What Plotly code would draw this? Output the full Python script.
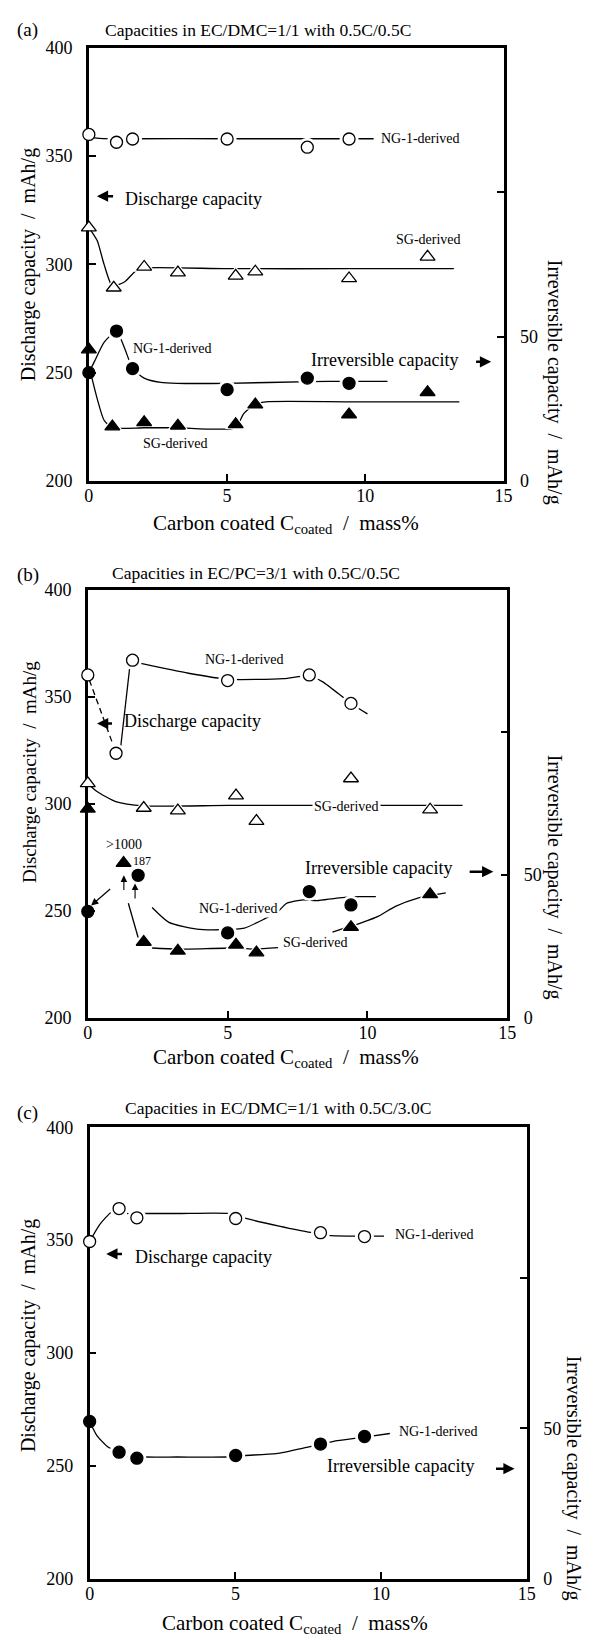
import plotly.graph_objects as go

# ---------------- data ----------------
X_TICKS = [0, 5, 10, 15]
LEFT_TICKS = [200, 250, 300, 350, 400]
RIGHT_TICKS = [0, 50, 100]
RIGHT_TICKTEXT = ["0", "50", ""]

TITLES = ["Capacities in EC/DMC=1/1 with 0.5C/0.5C",
          "Capacities in EC/PC=3/1 with 0.5C/0.5C",
          "Capacities in EC/DMC=1/1 with 0.5C/3.0C"]
PANEL_TAGS = ["(a)", "(b)", "(c)"]

# Panel (a): discharge capacity (left axis, mAh/g)
A_NG_DIS_X = [0, 1.0, 1.58, 5.0, 7.9, 9.41]
A_NG_DIS_Y = [360, 356.4, 357.9, 357.9, 354.1, 357.9]
A_NG_DIS_FIT_X = [0, 1.0, 1.6, 5.0, 9.4, 10.3]
A_NG_DIS_FIT_Y = [358.5, 357.8, 358, 358, 358, 358]
A_SG_DIS_X = [0, 0.9, 2.0, 3.22, 5.31, 6.02, 9.41, 12.25]
A_SG_DIS_Y = [317, 289.2, 298.8, 296.2, 294.7, 296.6, 293.5, 303.5]
A_SG_DIS_FIT_X = [0, 0.3, 0.55, 0.85, 1.3, 1.7, 2.0, 5.0, 9.4, 13.2]
A_SG_DIS_FIT_Y = [317, 311, 300, 290, 292, 297, 298.3, 298, 298, 298]
# Panel (a): irreversible capacity (right axis, mAh/g)
A_NG_IRR_X = [0, 1.0, 1.58, 5.0, 7.9, 9.41]
A_NG_IRR_Y = [37.5, 51.9, 38.9, 31.6, 35.6, 33.8]
A_NG_IRR_FIT_X = [0, 0.2, 0.55, 1.0, 1.3, 1.58, 2.0, 2.6, 3.2, 5.0, 8.0, 9.4, 10.8]
A_NG_IRR_FIT_Y = [37.5, 41.3, 48, 51.8, 45.8, 39, 35.6, 34.1, 33.8, 33.8, 34.4, 34.5, 34.5]
A_SG_IRR_X = [0, 0.85, 2.0, 3.22, 5.31, 6.02, 9.41, 12.25]
A_SG_IRR_Y = [45.5, 18.8, 20.3, 19.1, 19.6, 26.4, 23.0, 30.7]
A_SG_IRR_FIT_X = [0.1, 0.3, 0.55, 0.85, 2.0, 3.2, 5.3, 5.6, 6.0, 6.4, 9.4, 13.4]
A_SG_IRR_FIT_Y = [36, 28.5, 21, 18.4, 18.4, 18.4, 18.4, 23.3, 26.6, 27.4, 27.4, 27.4]

# Panel (b): discharge capacity
B_NG_DIS_X = [0, 1.01, 1.6, 5.0, 7.92, 9.41]
B_NG_DIS_Y = [360.2, 323.6, 367.1, 357.6, 360.2, 346.9]
B_NG_DIS_DASH_X = [0.05, 0.5, 0.92]
B_NG_DIS_DASH_Y = [358, 342, 327]
B_NG_DIS_FIT_X = [1.18, 1.51, None, 1.9, 3.6, 5.0, 7.0, 7.9, 8.4, 9.4, 10.0]
B_NG_DIS_FIT_Y = [327, 365, None, 365.6, 361, 358.2, 358.5, 359.8, 357, 347, 342]
B_SG_DIS_X = [0, 2.0, 3.22, 5.3, 6.03, 9.41, 12.24]
B_SG_DIS_Y = [309.5, 298, 296.8, 303.8, 291.9, 311.8, 297.2]
B_SG_DIS_FIT_X = [0, 0.33, 1.0, 2.0, 5.0, 9.0, 13.4]
B_SG_DIS_FIT_Y = [309.5, 305.7, 301, 299, 299.2, 299.2, 299.2]
# Panel (b): irreversible capacity
B_NG_IRR_X = [0, 1.8, 5.0, 7.92, 9.41]
B_NG_IRR_Y = [37.2, 49.9, 29.7, 44.2, 39.5]
B_NG_IRR_FIT_X = [2.3, 2.9, 3.9, 4.8, 5.6, 6.3, 6.8, 7.1, 7.7, 8.2, 8.9, 9.7, 10.3]
B_NG_IRR_FIT_Y = [38.6, 33.4, 31.0, 30.8, 31.4, 34.5, 37.2, 40.0, 41.3, 41.0, 41.9, 42.4, 42.4]
B_SG_IRR_X = [0, 1.28, 2.0, 3.22, 5.3, 6.03, 9.41, 12.24]
B_SG_IRR_Y = [73.2, 54.2, 26.5, 23.4, 25.5, 22.8, 31.7, 43.2]
B_SG_IRR_FIT_X = [1.45, 1.8, None, 2.3, 3.2, 5.3, 6.0, 6.8, None, 8.75, 9.2, None,
                  9.6, 10.4, 11.0, 11.8, 12.24, 12.8]
B_SG_IRR_FIT_Y = [40.1, 28.1, None, 24.4, 24.0, 24.4, 24.0, 24.5, None, 30.0, 31.5, None,
                  32.6, 35.6, 39.0, 41.9, 42.8, 43.7]

# Panel (c)
C_NG_DIS_X = [0, 1.01, 1.62, 5.01, 7.92, 9.43]
C_NG_DIS_Y = [349.4, 364, 359.9, 359.6, 353.3, 351.6]
C_NG_DIS_FIT_X = [0, 0.35, 0.75, 1.01, 1.35, 1.9, 3.0, 4.8, 5.4, 6.5, 7.5, 7.92, 8.3, 9.43, 10.1]
C_NG_DIS_FIT_Y = [349.4, 357, 362.5, 363.5, 361.6, 361.8, 361.8, 361.8, 359.5, 356.2, 353.6, 353,
                  352, 351.8, 351.8]
C_NG_IRR_X = [0, 1.01, 1.62, 5.01, 7.92, 9.43]
C_NG_IRR_Y = [52.3, 42.1, 40.1, 41.0, 44.8, 47.3]
C_NG_IRR_FIT_X = [0, 0.25, 0.63, 1.01, 1.3, 1.9, 3.0, 4.7, 5.3, 6.4, 7.45, 7.92, 8.5, 9.43, 10.3]
C_NG_IRR_FIT_Y = [52.3, 47.6, 43.8, 42.0, 40.9, 40.5, 40.5, 40.5, 41.0, 41.6, 43.7, 44.7, 45.9,
                  47.1, 48.3]

# ---------------- layout constants ----------------
W, H = 591, 1643
FONT = "Liberation Serif, Times New Roman, serif"
# plot boxes in pixels: left, right, top, bottom
BOXES = [(85.9, 510.7, 38.3, 476.7), (84.8, 514.5, 587.0, 1020.0), (86.7, 534.5, 1131.0, 1588.3)]


def px(x):
    return x / W


def py(y):
    return 1 - y / H


fig = go.Figure()
annotations = []
layout = {}


def names(i):
    xn = "x" if i == 0 else "x%d" % (i + 1)
    yl = "y" if i == 0 else "y%d" % (2 * i + 1)
    yr = "y%d" % (2 * i + 2)
    return xn, yl, yr


def curve(xs, ys, xa, ya, dash="solid"):
    fig.add_trace(go.Scatter(x=xs, y=ys, xaxis=xa, yaxis=ya, mode="lines",
                             line=dict(color="black", width=1.3, shape="spline",
                                       smoothing=0.6, dash=dash),
                             connectgaps=False, hoverinfo="skip", showlegend=False))


def marks(xs, ys, xa, ya, symbol, filled):
    hx = [x for x in xs if x > 0.2]
    hy = [y for x, y in zip(xs, ys) if x > 0.2]
    fig.add_trace(go.Scatter(x=hx, y=hy, xaxis=xa, yaxis=ya, mode="markers",
                             marker=dict(symbol=symbol, size=19, color="white",
                                         line=dict(width=0)),
                             cliponaxis=False, hoverinfo="skip", showlegend=False))
    fig.add_trace(go.Scatter(x=xs, y=ys, xaxis=xa, yaxis=ya, mode="markers",
                             marker=dict(symbol=symbol, size=12 if symbol == "circle" else 13,
                                         color="black" if filled else "white",
                                         line=dict(color="black", width=1.3)),
                             cliponaxis=False, hoverinfo="skip", showlegend=False))


def label(text, x, y, xa, ya, size=14, xanchor="center", bg=None):
    d = dict(text=text, x=x, y=y, xref=xa, yref=ya, showarrow=False,
             font=dict(family=FONT, size=size, color="black"), xanchor=xanchor, yanchor="middle")
    if bg:
        d["bgcolor"] = bg
        d["borderpad"] = 1
    annotations.append(d)


def arrow(x, y, ax, ay, xa, ya, width=2.5, head=2, size=0.9):
    annotations.append(dict(text="", x=x, y=y, ax=ax, ay=ay, xref=xa, yref=ya,
                            axref=xa, ayref=ya, showarrow=True, arrowhead=head,
                            arrowsize=size, arrowwidth=width, arrowcolor="black"))


def paper_text(text, x, y, size, angle=0, xanchor="center"):
    annotations.append(dict(text=text, x=px(x), y=py(y), xref="paper", yref="paper",
                            showarrow=False, textangle=angle, xanchor=xanchor, yanchor="middle",
                            font=dict(family=FONT, size=size, color="black")))


for i, (l, r, t, b) in enumerate(BOXES):
    xn, yl, yr = names(i)
    xk = "xaxis" if i == 0 else "xaxis%d" % (i + 1)
    ylk = "yaxis" if i == 0 else "yaxis%d" % (2 * i + 1)
    yrk = "yaxis%d" % (2 * i + 2)
    common = dict(showline=True, linewidth=2.6, linecolor="black", ticks="inside", ticklen=7,
                  tickwidth=2.4, tickcolor="black", showgrid=False, zeroline=False,
                  tickfont=dict(family=FONT, size=18, color="black"), layer="below traces")
    layout[xk] = dict(common, domain=[px(l), px(r)], range=[0, 15], tickvals=X_TICKS,
                      mirror=True, anchor=yl, ticklabelstandoff=-3)
    layout[ylk] = dict(common, domain=[py(b), py(t)], range=[200, 400], tickvals=LEFT_TICKS,
                       anchor=xn, ticklabelstandoff=10)
    layout[yrk] = dict(common, domain=[py(b), py(t)], range=[0, 150], tickvals=RIGHT_TICKS,
                       ticktext=RIGHT_TICKTEXT, anchor=xn, overlaying=yl, side="right",
                       ticklabelstandoff=10)

# ---- panel (a)
xn, yl, yr = names(0)
curve(A_NG_DIS_FIT_X, A_NG_DIS_FIT_Y, xn, yl)
curve(A_SG_DIS_FIT_X, A_SG_DIS_FIT_Y, xn, yl)
curve(A_NG_IRR_FIT_X, A_NG_IRR_FIT_Y, xn, yr)
curve(A_SG_IRR_FIT_X, A_SG_IRR_FIT_Y, xn, yr)
marks(A_NG_DIS_X, A_NG_DIS_Y, xn, yl, "circle", False)
marks(A_SG_DIS_X, A_SG_DIS_Y, xn, yl, "triangle-up", False)
marks(A_NG_IRR_X, A_NG_IRR_Y, xn, yr, "circle", True)
marks(A_SG_IRR_X, A_SG_IRR_Y, xn, yr, "triangle-up", True)
label("NG-1-derived", 10.5, 358, xn, yl, 14, "left")
label("SG-derived", 12.27, 311.6, xn, yl, 14)
label("NG-1-derived", 3.02, 261.3, xn, yl, 14)
label("SG-derived", 3.14, 217.4, xn, yl, 14)
label("Discharge capacity", 1.22, 330.3, xn, yl, 18, "left")
arrow(0.29, 331.5, 0.93, 331.5, xn, yl)
label("Irreversible capacity", 10.68, 256, xn, yl, 18)
arrow(14.55, 255, 13.95, 255, xn, yl)

# ---- panel (b)
xn, yl, yr = names(1)
curve(B_NG_DIS_DASH_X, B_NG_DIS_DASH_Y, xn, yl, dash="6px,4px")
curve(B_NG_DIS_FIT_X, B_NG_DIS_FIT_Y, xn, yl)
curve(B_SG_DIS_FIT_X, B_SG_DIS_FIT_Y, xn, yl)
curve(B_NG_IRR_FIT_X, B_NG_IRR_FIT_Y, xn, yr)
curve(B_SG_IRR_FIT_X, B_SG_IRR_FIT_Y, xn, yr)
marks(B_NG_DIS_X, B_NG_DIS_Y, xn, yl, "circle", False)
marks(B_SG_DIS_X, B_SG_DIS_Y, xn, yl, "triangle-up", False)
marks(B_NG_IRR_X, B_NG_IRR_Y, xn, yr, "circle", True)
marks(B_SG_IRR_X, B_SG_IRR_Y, xn, yr, "triangle-up", True)
label("NG-1-derived", 5.62, 367.6, xn, yl, 14)
label("SG-derived", 9.24, 298.8, xn, yl, 14, bg="white")
label("NG-1-derived", 5.39, 251.2, xn, yl, 14, bg="white")
label("SG-derived", 8.14, 234.9, xn, yl, 14, bg="white")
label("&gt;1000", 1.29, 281.1, xn, yl, 14)
label("187", 1.95, 273.4, xn, yl, 12)
arrow(1.29, 266.5, 1.29, 258.9, xn, yl, width=1.1, head=2, size=1.2)
arrow(1.69, 262.7, 1.69, 255.0, xn, yl, width=1.1, head=2, size=1.2)
arrow(0.12, 252.4, 0.855, 260.7, xn, yl, width=1.2, head=2, size=1.2)
label("Discharge capacity", 1.22, 338.7, xn, yl, 18, "left")
arrow(0.33, 337.5, 0.92, 337.5, xn, yl)
label("Irreversible capacity", 10.39, 270, xn, yl, 18)
arrow(14.5, 268.2, 13.6, 268.2, xn, yl)

# ---- panel (c)
xn, yl, yr = names(2)
curve(C_NG_DIS_FIT_X, C_NG_DIS_FIT_Y, xn, yl)
curve(C_NG_IRR_FIT_X, C_NG_IRR_FIT_Y, xn, yr)
marks(C_NG_DIS_X, C_NG_DIS_Y, xn, yl, "circle", False)
marks(C_NG_IRR_X, C_NG_IRR_Y, xn, yr, "circle", True)
label("NG-1-derived", 10.42, 352.3, xn, yl, 14, "left")
label("NG-1-derived", 10.54, 265.2, xn, yl, 14, "left")
label("Discharge capacity", 1.49, 342.4, xn, yl, 18, "left")
arrow(0.57, 343.9, 1.16, 343.9, xn, yl)
label("Irreversible capacity", 10.67, 250, xn, yl, 18)
arrow(14.58, 248.8, 13.89, 248.8, xn, yl)

# ---- titles / axis titles in page pixels
NB = "\u00a0"
XTITLE = "Carbon coated C<sub>coated</sub>" + NB * 2 + "/" + NB * 2 + "mass%"
LTITLE = "Discharge capacity" + NB * 2 + "/" + NB * 2 + "mAh/g"
RTITLE = "Irreversible capacity" + NB * 2 + "/" + NB * 2 + "mAh/g"
TITLE_POS = [(259.1, 20), (257.3, 570), (279.3, 1111.7)]
TAG_POS = [(22.6, 20), (23.4, 572), (23.4, 1116.7)]
XT_POS = [(287.4, 520), (287.4, 1061), (296.8, 1634)]
LT_POS = [(24, 258), (25, 771), (24, 1342)]
LT_SIZE = [20, 19, 20]
RT_POS = [(563, 377), (563, 878), (582, 1486)]
for i in range(3):
    paper_text(TITLES[i], TITLE_POS[i][0], TITLE_POS[i][1], 17.5)
    paper_text(PANEL_TAGS[i], TAG_POS[i][0], TAG_POS[i][1], 19)
    paper_text(XTITLE, XT_POS[i][0], XT_POS[i][1], 21)
    paper_text(LTITLE, LT_POS[i][0], LT_POS[i][1], LT_SIZE[i], angle=-90)
    paper_text(RTITLE, RT_POS[i][0], RT_POS[i][1], 20, angle=90)

fig.update_layout(width=W, height=H, autosize=False, margin=dict(l=0, r=0, t=0, b=0),
                  paper_bgcolor="white", plot_bgcolor="white", showlegend=False,
                  font=dict(family=FONT, color="black"), annotations=annotations, **layout)

fig.write_html("out.html")
